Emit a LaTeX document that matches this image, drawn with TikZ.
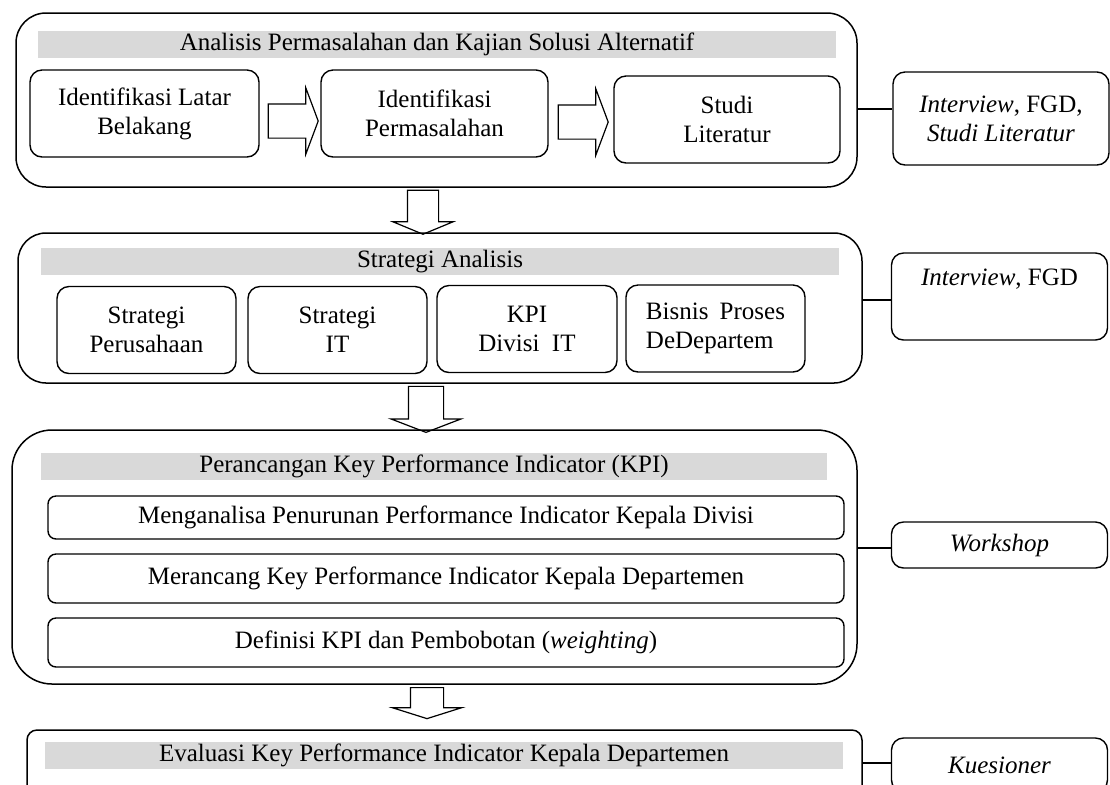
\documentclass[tikz,border=0pt]{standalone}
\usepackage{fontspec}
\setmainfont{Liberation Serif}
\usepackage{tikz}
\usetikzlibrary{shapes.arrows,positioning,calc}
\definecolor{headgray}{HTML}{D9D9D9}

\begin{document}
\begin{tikzpicture}[x=0.5pt,y=-0.5pt,
  font=\fontsize{12.5}{14.5}\selectfont,
  panel/.style={draw, line width=0.75pt, inner sep=0pt},
  headbar/.style={fill=headgray, inner sep=0pt, minimum width=399pt, minimum height=13.5pt},
  stepbox/.style={draw, line width=0.7pt, rounded corners=6pt, align=center,
                  inner sep=0pt, minimum height=43.5pt},
  rowbox/.style={draw, line width=0.7pt, rounded corners=4pt, inner sep=0pt, minimum width=398pt},
  toolbox/.style={draw, line width=0.7pt, rounded corners=6pt, align=center,
                  inner sep=0pt, minimum width=108pt},
  rarrow/.style={single arrow, draw, fill=white, line width=0.6pt, minimum height=25pt,
                 inner sep=8.25pt, single arrow head extend=8pt,
                 single arrow tip angle=139, single arrow head indent=0pt},
  darrow/.style={single arrow, draw, fill=white, line width=0.6pt, rotate=-90,
                 inner xsep=1pt, single arrow head indent=0pt},
  link/.style={line width=0.6pt}]
  \useasboundingbox (0,0) rectangle (1110,784);
  \clip (0,0) rectangle (1110,784);

  % tahap 1
  \node[panel, rounded corners=15pt, minimum width=420.5pt, minimum height=87pt] (prob) at (436.5,100) {};
  \node[headbar] (probhead) at (437,44) {Analisis Permasalahan dan Kajian Solusi Alternatif};
  \node[stepbox, minimum width=114.5pt] (latar) at (144.5,113.5) {Identifikasi Latar\\Belakang};
  \node[stepbox, minimum width=113.5pt] (masalah) at (434.5,113.5) {Identifikasi\\Permasalahan};
  \node[stepbox, minimum width=113pt] (literatur) at (727,119.5) {Studi\\Literatur};
  \node[rarrow] (ar1) at (290,121) {};
  \node[rarrow] (ar2) at (580,122) {};
  \node[toolbox, minimum height=46.5pt] (toola) at (1001,118.5)
    {\textit{Interview}, FGD,\\\textit{Studi Literatur}};
  \coordinate (ya) at (0,109);
  \draw[link] (prob.east |- ya) -- (toola.west |- ya);

  \node[darrow, minimum height=22pt, inner ysep=7.5pt, single arrow head extend=7.25pt,
        single arrow tip angle=135] (down1) at (423,209) {};

  % tahap 2
  \node[panel, rounded corners=14pt, minimum width=422pt, minimum height=75pt] (strat) at (440,308) {};
  \node[headbar] (strathead) at (440,261.5) {Strategi Analisis};
  \node[stepbox, minimum width=89.5pt] (stratco) at (146.5,330) {Strategi\\Perusahaan};
  \node[stepbox, minimum width=89.5pt] (stratit) at (337.5,330) {Strategi\\IT};
  \node[stepbox, minimum width=90pt] (kpidiv) at (527,329) {KPI\\Divisi\hspace{0.5em}IT};
  \node[stepbox, minimum width=89.5pt, align=left] (bisnis) at (715.5,328.5)
    {Bisnis\hspace{0.45em}Proses\\DeDepartem};
  \node[toolbox, minimum height=43.5pt] (toolb) at (999.5,296.5) {\textit{Interview}, FGD\\ \strut};
  \coordinate (yb) at (0,300);
  \draw[link] (strat.east |- yb) -- (toolb.west |- yb);

  \node[darrow, minimum height=23pt, inner ysep=8.5pt, single arrow head extend=8.75pt,
        single arrow tip angle=138] (down2) at (426,406) {};

  % tahap 3
  \node[panel, rounded corners=20pt, minimum width=422.5pt, minimum height=127pt] (design) at (434.5,557) {};
  \node[headbar, minimum width=393pt] (designhead) at (434,466.5) {Perancangan Key Performance Indicator (KPI)};
  \node[rowbox, minimum height=21.5pt] (turun) at (446,517.5)
    {Menganalisa Penurunan Performance Indicator Kepala Divisi};
  \node[rowbox, minimum height=24.5pt] (rancang) at (446,578.5)
    {Merancang Key Performance Indicator Kepala Departemen};
  \node[rowbox, minimum height=24.5pt] (bobot) at (446,642.5)
    {Definisi KPI dan Pembobotan (\textit{weighting})};
  \node[toolbox, minimum height=23pt] (toolc) at (999.5,545) {\textit{Workshop}};
  \coordinate (yc) at (0,548);
  \draw[link] (design.east |- yc) -- (toolc.west |- yc);

  \node[darrow, minimum height=15.5pt, inner ysep=8pt, single arrow head extend=9pt,
        single arrow tip angle=145] (down3) at (427,700.5) {};

  % tahap 4
  \node[panel, rounded corners=5pt, minimum width=417.5pt, minimum height=40pt] (eval) at (444.5,770) {};
  \node[headbar] (evalhead) at (444,755) {Evaluasi Key Performance Indicator Kepala Departemen};
  \node[toolbox, minimum height=27pt] (toold) at (999.5,765) {\textit{Kuesioner}};
  \coordinate (yd) at (0,763);
  \draw[link] (eval.east |- yd) -- (toold.west |- yd);
\end{tikzpicture}
\end{document}
